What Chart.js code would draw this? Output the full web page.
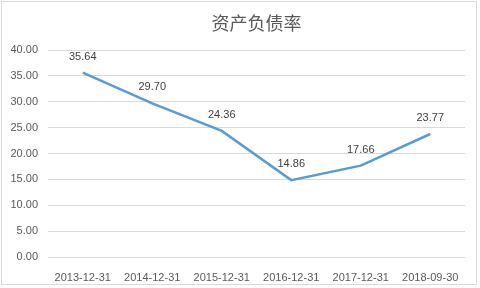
<!DOCTYPE html>
<html>
<head>
<meta charset="utf-8">
<script src="https://cdn.jsdelivr.net/npm/chart.js@4"></script>
<style>
  body { margin: 0; background: #fff; }
  #wrap { width: 480px; height: 288px; position: relative; }
  #frame { position: absolute; left: 1px; top: 1px; width: 476px; height: 284px; border: 1px solid #d9d9d9; box-sizing: border-box; pointer-events: none; }
</style>
</head>
<body>
<div id="wrap">
  <canvas id="debt-chart" width="480" height="288"></canvas>
  <div id="frame"></div>
</div>
<script>
const categories = ['2013-12-31', '2014-12-31', '2015-12-31', '2016-12-31', '2017-12-31', '2018-09-30'];
const debtRatio = [35.64, 29.70, 24.36, 14.86, 17.66, 23.77];
const yTicks = [0, 5, 10, 15, 20, 25, 30, 35, 40];

const pointLabels = {
  id: 'pointLabels',
  afterLayout(chart) {
    // center title over the plot area like the original
    if (chart.titleBlock) {
      chart.titleBlock.left = chart.chartArea.left;
      chart.titleBlock.right = chart.chartArea.right;
    }
  },
  afterDatasetsDraw(chart) {
    const ctx = chart.ctx;
    const meta = chart.getDatasetMeta(0);
    ctx.save();
    ctx.font = '11px "Liberation Sans", sans-serif';
    ctx.fillStyle = '#404040';
    ctx.textAlign = 'center';
    ctx.textBaseline = 'middle';
    meta.data.forEach((pt, i) => {
      ctx.fillText(debtRatio[i].toFixed(2), pt.x, pt.y - 16);
    });
    ctx.restore();
  }
};

function debtChart() {
  const el = document.getElementById('debt-chart');
  new Chart(el, {
    type: 'line',
    data: {
      labels: categories,
      datasets: [{
        label: '资产负债率',
        data: debtRatio,
        borderColor: '#5B9BD5',
        borderWidth: 2.5,
        pointRadius: 0,
        fill: false,
        tension: 0
      }]
    },
    options: {
      responsive: false,
      animation: false,
      layout: { padding: { left: 0, right: 15, top: 0, bottom: 0 } },
      plugins: {
        legend: { display: false },
        tooltip: { enabled: false },
        title: {
          display: true,
          text: '资产负债率',
          color: '#595959',
          font: { family: '"Noto Sans CJK SC", sans-serif', size: 18, weight: 'normal' },
          padding: { top: 12, bottom: 16.4 }
        }
      },
      scales: {
        x: {
          offset: true,
          grid: { display: false },
          border: { display: false },
          ticks: {
            color: '#595959',
            font: { family: '"Liberation Sans", sans-serif', size: 11 },
            maxRotation: 0,
            padding: 6
          },
          afterFit(scale) { scale.height = 31; }
        },
        y: {
          min: 0,
          max: 40,
          afterBuildTicks(scale) { scale.ticks = yTicks.map(v => ({ value: v })); },
          grid: { color: '#d9d9d9', drawTicks: false },
          border: { display: false },
          ticks: {
            color: '#595959',
            font: { family: '"Liberation Sans", sans-serif', size: 11 },
            padding: 10,
            callback: v => Number(v).toFixed(2)
          },
          afterFit(scale) { scale.width = 48; }
        }
      }
    },
    plugins: [pointLabels]
  });
}

debtChart()
</script>
</body>
</html>
